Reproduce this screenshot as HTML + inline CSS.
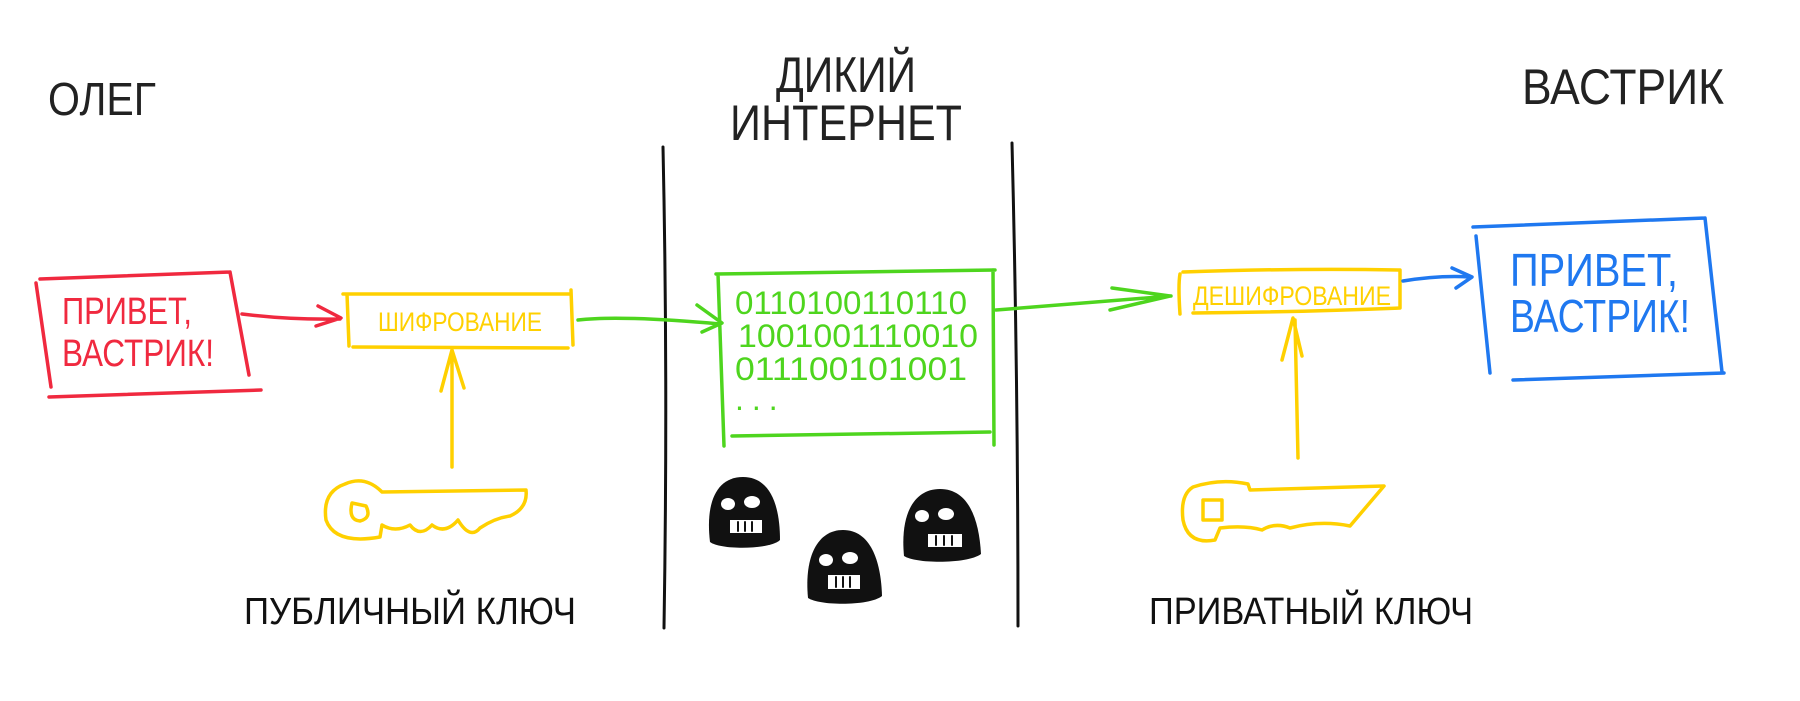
<!DOCTYPE html>
<html><head><meta charset="utf-8"><style>
html,body{margin:0;padding:0;background:#fff;overflow:hidden;}
svg{display:block}
text{font-family:"Liberation Sans Narrow","Liberation Sans",sans-serif;}
</style></head><body>
<svg width="1800" height="701" viewBox="0 0 1800 701" xmlns="http://www.w3.org/2000/svg" fill="none" stroke-linecap="round" stroke-linejoin="round">
<!-- titles -->
<text x="48" y="115" font-size="46" fill="#222" textLength="108" lengthAdjust="spacingAndGlyphs">ОЛЕГ</text>
<text x="846" y="92" font-size="50" fill="#222" text-anchor="middle" textLength="140" lengthAdjust="spacingAndGlyphs">ДИКИЙ</text>
<text x="846" y="140" font-size="50" fill="#222" text-anchor="middle" textLength="232" lengthAdjust="spacingAndGlyphs">ИНТЕРНЕТ</text>
<text x="1522" y="104" font-size="50" fill="#222" textLength="202" lengthAdjust="spacingAndGlyphs">ВАСТРИК</text>
<!-- black lines -->
<path d="M663 147 Q668 380 664 628" stroke="#111" stroke-width="3"/>
<path d="M1012 143 Q1018 380 1018 626" stroke="#111" stroke-width="3"/>
<!-- red box -->
<g stroke="#f0293f" stroke-width="3.5">
<path d="M40 279 L230 272 M36 283 L51 387 M230 272 L249 375 M49 397 L261 390"/>
<path d="M242 314 Q290 320 340 319 M318 306 L341 318 L316 326"/>
</g>
<text x="62" y="324" font-size="38" fill="#f0293f" textLength="130" lengthAdjust="spacingAndGlyphs">ПРИВЕТ,</text>
<text x="62" y="366" font-size="38" fill="#f0293f" textLength="152" lengthAdjust="spacingAndGlyphs">ВАСТРИК!</text>
<!-- encryption box -->
<g stroke="#ffd000" stroke-width="3.5">
<path d="M343 294 L571 294 M347 294 L349 346 M353 347 L568 348 M571 290 L573 345"/>
<path d="M452 467 L452 352 M441 391 L452 350 L464 388"/>
<path d="M345 484 Q322 492 326 520 Q335 545 380 537 L382 525 Q395 533 410 525 Q420 538 432 525 Q445 535 458 520 Q470 540 480 528 Q495 518 510 516 Q528 508 526 490 L382 492 Q365 475 345 484 Z"/>
<path d="M352 503 Q348 520 360 521 Q372 518 366 506 Z"/>
<path d="M1298 458 L1295 320 M1282 360 L1293 318 L1302 356"/>
<path d="M1193 487 Q1180 495 1183 520 Q1188 545 1215 540 L1220 528 Q1245 525 1262 530 Q1275 522 1290 528 Q1320 520 1350 526 L1384 486 L1250 490 L1248 484 Q1220 478 1193 487 Z"/>
<path d="M1203 500 L1203 520 L1222 520 L1222 500 Z"/>
<path d="M1180 274 Q1178 285 1180 314 M1183 272 Q1300 268 1400 270 L1400 308 Q1300 312 1193 313"/>
</g>
<text x="460" y="331" font-size="27" fill="#ffd000" text-anchor="middle" textLength="164" lengthAdjust="spacingAndGlyphs">ШИФРОВАНИЕ</text>
<text x="1193" y="305" font-size="27" fill="#ffd000" textLength="198" lengthAdjust="spacingAndGlyphs">ДЕШИФРОВАНИЕ</text>
<!-- green -->
<g stroke="#4ed51e" stroke-width="3.5">
<path d="M578 320 Q620 315 720 324 M697 305 L722 323 L702 332"/>
<path d="M716 274 L995 270 M718 274 L724 446 M732 436 L990 432 M993 270 L994 445"/>
<path d="M996 310 Q1060 305 1171 296 M1112 288 L1170 296 L1110 310"/>
</g>
<g fill="#4ed51e" font-size="32" font-family="Liberation Sans Narrow, Liberation Sans, sans-serif">
<text x="735" y="314" textLength="232" lengthAdjust="spacingAndGlyphs">0110100110110</text>
<text x="738" y="347" textLength="240" lengthAdjust="spacingAndGlyphs">1001001110010</text>
<text x="735" y="380" textLength="232" lengthAdjust="spacingAndGlyphs">011100101001</text>
<text x="735" y="410" letter-spacing="8">...</text>
</g>
<!-- blue -->
<g stroke="#1f78f0" stroke-width="3.5">
<path d="M1403 281 Q1440 275 1470 277 M1452 268 L1472 277 L1456 288"/>
<path d="M1473 227 L1705 218 M1476 236 L1490 373 M1705 218 L1722 372 M1513 380 L1724 373"/>
</g>
<text x="1510" y="286" font-size="46" fill="#1f78f0" textLength="168" lengthAdjust="spacingAndGlyphs">ПРИВЕТ,</text>
<text x="1510" y="332" font-size="46" fill="#1f78f0" textLength="180" lengthAdjust="spacingAndGlyphs">ВАСТРИК!</text>
<!-- robbers -->
<g fill="#111">
<path d="M710 542 C705 500 718 477 743 477 C770 477 780 505 780 540 C770 550 720 550 710 542Z"/>
<path d="M808 598 C804 556 818 530 843 530 C870 530 881 560 882 596 C870 606 820 606 808 598Z"/>
<path d="M904 556 C900 514 914 489 940 489 C968 489 979 518 981 554 C968 564 916 564 904 556Z"/>
</g>
<g fill="#fff">
<ellipse cx="728" cy="504" rx="7" ry="6"/><ellipse cx="752" cy="502" rx="8" ry="6"/><rect x="730" y="520" width="32" height="13"/>
<ellipse cx="826" cy="560" rx="7" ry="6"/><ellipse cx="850" cy="558" rx="8" ry="6"/><rect x="828" y="575" width="32" height="14"/>
<ellipse cx="922" cy="516" rx="7" ry="6"/><ellipse cx="946" cy="514" rx="8" ry="6"/><rect x="928" y="534" width="34" height="13"/>
</g>
<g stroke="#111" stroke-width="2">
<path d="M738 522 V531 M745 522 V531 M752 522 V531 M836 577 V587 M843 577 V587 M850 577 V587 M936 536 V545 M944 536 V545 M952 536 V545"/>
</g>
<!-- key labels -->
<text x="244" y="624" font-size="38" fill="#111" textLength="332" lengthAdjust="spacingAndGlyphs">ПУБЛИЧНЫЙ КЛЮЧ</text>
<text x="1149" y="624" font-size="38" fill="#111" textLength="324" lengthAdjust="spacingAndGlyphs">ПРИВАТНЫЙ КЛЮЧ</text>
</svg>
</body></html>
